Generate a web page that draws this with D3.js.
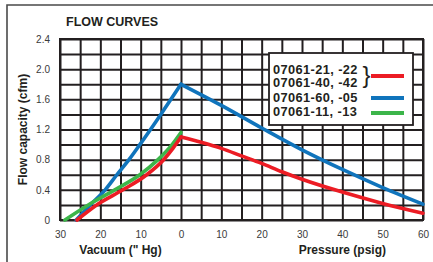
<!DOCTYPE html>
<html>
<head>
<meta charset="utf-8">
<script src="https://cdn.jsdelivr.net/npm/d3@7"></script>
<style>
  body { margin: 0; background: #fff; }
  svg { display: block; }
</style>
</head>
<body>
<div id="chart"></div>
<script>
// x is signed: negative = vacuum ("Hg), positive = pressure (psig)
const xTickValues = [-30, -20, -10, 0, 10, 20, 30, 40, 50, 60];
const xTickLabels = ['30', '20', '10', '0', '10', '20', '30', '40', '50', '60'];
const yTickValues = [0, 0.4, 0.8, 1.2, 1.6, 2.0, 2.4];
const yTickLabels = ['0', '0.4', '0.8', '1.2', '1.6', '2.0', '2.4'];

// vacuum side: [inches Hg, cfm]
const redVacuum = [[25.8, 0], [20.9, 0.2], [14.4, 0.4], [8.5, 0.6], [4.3, 0.8], [2, 0.95], [0, 1.1]];
const blueVacuum = [[26, 0], [22.5, 0.2], [18.8, 0.4], [15.9, 0.6], [12.9, 0.8], [10.2, 1.0], [5, 1.4], [0, 1.8]];
const greenVacuum = [[28.8, 0], [23, 0.2], [16.4, 0.4], [10.2, 0.6], [5.7, 0.8], [2.2, 1.0], [0, 1.16]];

// pressure side: [psig, cfm]
const redPressure = [[0, 1.1], [5, 1.03], [10, 0.95], [15, 0.85], [20, 0.75], [25, 0.64], [30, 0.54], [40, 0.37], [50, 0.22], [60, 0.09]];
const bluePressure = [[0, 1.8], [10, 1.52], [20, 1.22], [30, 0.93], [40, 0.67], [50, 0.43], [60, 0.21]];

const legendLabels = ['07061-21, -22', '07061-40, -42', '07061-60, -05', '07061-11, -13'];

const RED = '#ec1c24';
const BLUE = '#1074bc';
const GREEN = '#3cb54a';
const INK = '#231f20';

const series = [
  { color: BLUE, vacuum: blueVacuum, pressure: bluePressure },
  { color: GREEN, vacuum: greenVacuum, pressure: [] },
  { color: RED, vacuum: redVacuum, pressure: redPressure }
];

const svg = d3.select('#chart').append('svg')
  .attr('width', 433)
  .attr('height', 262);

// frame around the figure (left + top)
svg.append('path')
  .attr('d', 'M7,262V5H433')
  .attr('fill', 'none')
  .attr('stroke', '#4a4a4a')
  .attr('stroke-width', 1.6);

const plot = { left: 60, right: 423, top: 39, bottom: 220 };

const x = d3.scaleLinear().domain([-30, 60]).range([plot.left, plot.right]);
const y = d3.scaleLinear().domain([0, 2.4]).range([plot.bottom, plot.top]);

// grid via axes
const gridX = d3.range(-30, 61, 5);
const gridY = d3.range(0, 2.41, 0.2);

const gx = svg.append('g')
  .attr('transform', `translate(0,${plot.bottom})`)
  .call(d3.axisBottom(x).tickValues(gridX).tickSize(-(plot.bottom - plot.top)).tickFormat(''));
const gy = svg.append('g')
  .attr('transform', `translate(${plot.left},0)`)
  .call(d3.axisLeft(y).tickValues(gridY).tickSize(-(plot.right - plot.left)).tickFormat(''));

[gx, gy].forEach(g => {
  g.select('.domain').remove();
  g.selectAll('line').attr('stroke', INK).attr('stroke-width', 2);
});

svg.append('rect')
  .attr('x', plot.left)
  .attr('y', plot.top)
  .attr('width', plot.right - plot.left)
  .attr('height', plot.bottom - plot.top)
  .attr('fill', 'none')
  .attr('stroke', INK)
  .attr('stroke-width', 2);

// tick labels
const ax = svg.append('g')
  .attr('transform', `translate(0,${plot.bottom})`)
  .call(d3.axisBottom(x).tickValues(xTickValues).tickSize(0).tickPadding(11)
    .tickFormat((d, i) => xTickLabels[i]));
const ay = svg.append('g')
  .attr('transform', `translate(${plot.left},0)`)
  .call(d3.axisLeft(y).tickValues(yTickValues).tickSize(0).tickPadding(10)
    .tickFormat((d, i) => yTickLabels[i]));

[ax, ay].forEach(g => {
  g.select('.domain').remove();
  g.selectAll('text')
    .attr('fill', '#3a3a3a')
    .style('font-family', '"Liberation Sans", Arial, sans-serif')
    .style('font-size', '10px');
});

// curves
const line = d3.line()
  .x(d => x(d[0]))
  .y(d => y(d[1]))
  .curve(d3.curveMonotoneX);

series.forEach(s => {
  const vac = s.vacuum.map(d => [-d[0], d[1]]).sort((a, b) => a[0] - b[0]);
  [vac, s.pressure].forEach(pts => {
    if (pts.length === 0) return;
    svg.append('path')
      .attr('d', line(pts))
      .attr('fill', 'none')
      .attr('stroke', s.color)
      .attr('stroke-width', 3.6)
      .attr('stroke-linecap', 'round')
      .attr('stroke-linejoin', 'round');
  });
});

// titles
const bold = '"Liberation Sans", Arial, Helvetica, sans-serif';

svg.append('text')
  .attr('x', 66)
  .attr('y', 26)
  .text('FLOW CURVES')
  .style('font-family', bold)
  .style('font-weight', 'bold')
  .style('font-size', '12.5px')
  .attr('fill', INK);

svg.append('text')
  .attr('x', x(-15))
  .attr('y', 254)
  .attr('text-anchor', 'middle')
  .text('Vacuum (" Hg)')
  .style('font-family', bold)
  .style('font-weight', 'bold')
  .style('font-size', '12px')
  .attr('fill', INK);

svg.append('text')
  .attr('x', x(40))
  .attr('y', 254)
  .attr('text-anchor', 'middle')
  .text('Pressure (psig)')
  .style('font-family', bold)
  .style('font-weight', 'bold')
  .style('font-size', '12px')
  .attr('fill', INK);

svg.append('text')
  .attr('transform', `translate(27,${(plot.top + plot.bottom) / 2}) rotate(-90)`)
  .attr('text-anchor', 'middle')
  .text('Flow capacity (cfm)')
  .style('font-family', bold)
  .style('font-weight', 'bold')
  .style('font-size', '12px')
  .attr('fill', INK);

// legend
const lg = svg.append('g');
lg.append('rect')
  .attr('x', 269)
  .attr('y', 53)
  .attr('width', 144)
  .attr('height', 72)
  .attr('fill', '#fff')
  .attr('stroke', INK)
  .attr('stroke-width', 1.8);

const textY = [73.5, 87, 101.5, 115.5];
lg.selectAll('.leg-label')
  .data(legendLabels)
  .enter().append('text')
  .attr('class', 'leg-label')
  .attr('x', 273)
  .attr('y', (d, i) => textY[i])
  .text(d => d)
  .style('font-family', bold)
  .style('font-weight', 'bold')
  .style('font-size', '12.8px')
  .style('letter-spacing', '0.4px')
  .attr('fill', INK);

lg.append('text')
  .attr('x', 362.5)
  .attr('y', 83)
  .text('}')
  .style('font-family', bold)
  .style('font-size', '24px')
  .attr('fill', INK);

const swatches = [
  { color: RED, y: 76 },
  { color: BLUE, y: 98 },
  { color: GREEN, y: 113 }
];
lg.selectAll('.leg-swatch')
  .data(swatches)
  .enter().append('line')
  .attr('class', 'leg-swatch')
  .attr('x1', 371)
  .attr('x2', 404)
  .attr('y1', d => d.y)
  .attr('y2', d => d.y)
  .attr('stroke', d => d.color)
  .attr('stroke-width', 4);
</script>
</body>
</html>
